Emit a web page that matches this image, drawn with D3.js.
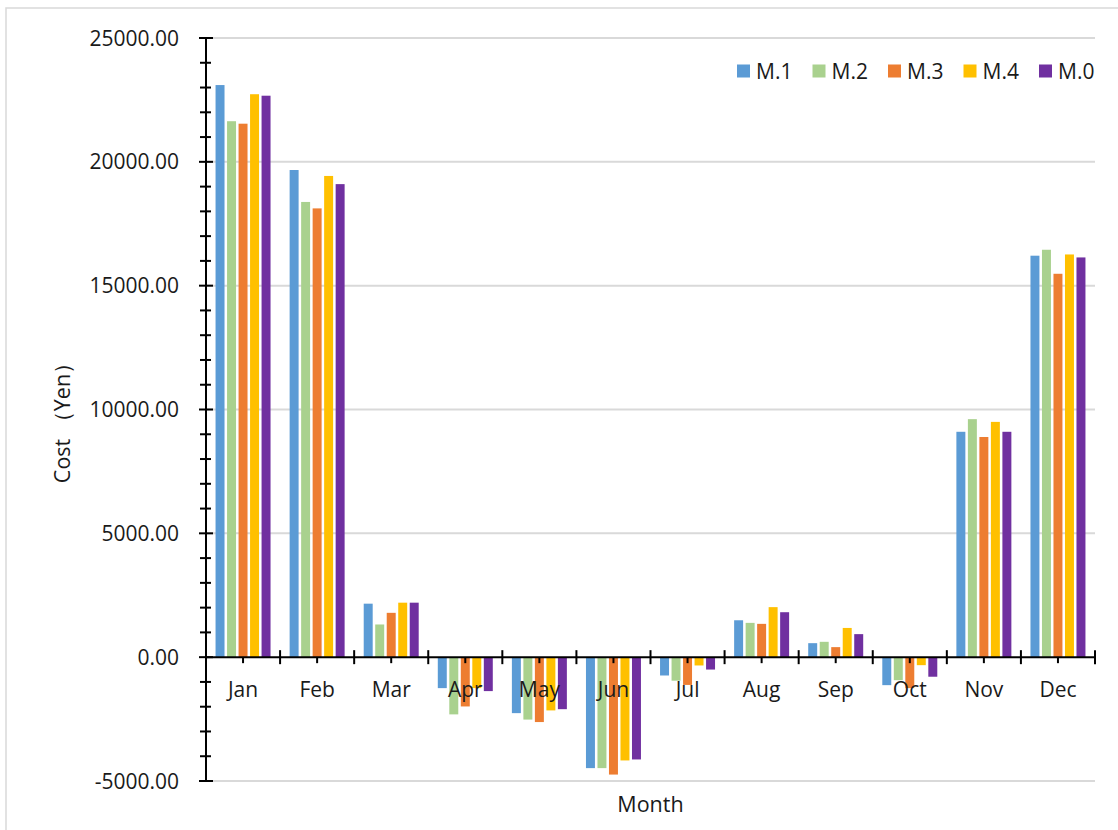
<!DOCTYPE html>
<html>
<head>
<meta charset="utf-8">
<script src="https://cdn.jsdelivr.net/npm/d3@7"></script>
<style>
  html, body { margin: 0; padding: 0; background: #fff; }
  svg { display: block; }
  text { font-family: "Open Sans", "Liberation Sans", sans-serif; fill: #1a1a1a; }
</style>
</head>
<body>
<svg id="chart" width="1118" height="830"></svg>
<script>
// Monthly cost per method (Yen)
const months = ["Jan", "Feb", "Mar", "Apr", "May", "Jun", "Jul", "Aug", "Sep", "Oct", "Nov", "Dec"];
const seriesNames = ["M.1", "M.2", "M.3", "M.4", "M.0"];
const seriesColors = ["#5B9BD5", "#A9D18E", "#ED7D31", "#FFC000", "#7030A0"];
const m1 = [23100, 19670, 2160, -1250, -2260, -4480, -740, 1490, 565, -1130, 9100, 16210];
const m2 = [21640, 18380, 1320, -2310, -2520, -4480, -950, 1385, 620, -930, 9610, 16450];
const m3 = [21540, 18120, 1790, -1990, -2620, -4740, -1120, 1345, 405, -1250, 8890, 15480];
const m4 = [22730, 19430, 2200, -1250, -2150, -4170, -335, 2020, 1180, -323, 9500, 16260];
const m0 = [22670, 19100, 2200, -1370, -2100, -4130, -500, 1815, 930, -790, 9100, 16140];
const yTicks = [-5000, 0, 5000, 10000, 15000, 20000, 25000];

const seriesValues = [m1, m2, m3, m4, m0];

const svg = d3.select("#chart");
const plot = { left: 206, right: 1095, top: 38, bottom: 781 };

// outer frame
svg.append("rect")
  .attr("x", 6).attr("y", 8)
  .attr("width", 1130).attr("height", 840)
  .attr("fill", "none").attr("stroke", "#d9d9d9").attr("stroke-width", 1.5);

const y = d3.scaleLinear().domain([-5000, 25000]).range([plot.bottom, plot.top]);
const x = d3.scaleBand().domain(months).range([plot.left, plot.right]).padding(0);
const xs = d3.scaleBand().domain(seriesNames).range([0, x.bandwidth()])
  .paddingInner(0.22).paddingOuter(0.83);

// gridlines
svg.append("g").selectAll("line")
  .data(yTicks.filter(v => v !== 0))
  .join("line")
  .attr("x1", plot.left).attr("x2", plot.right)
  .attr("y1", d => y(d)).attr("y2", d => y(d))
  .attr("stroke", "#d9d9d9").attr("stroke-width", 2);

// bars
const groups = svg.append("g").selectAll("g")
  .data(months)
  .join("g")
  .attr("transform", d => `translate(${x(d)},0)`);

groups.selectAll("rect")
  .data((m, i) => seriesNames.map((s, k) => ({ s, k, v: seriesValues[k][i] })))
  .join("rect")
  .attr("x", d => xs(d.s))
  .attr("width", xs.bandwidth())
  .attr("y", d => y(Math.max(0, d.v)))
  .attr("height", d => Math.abs(y(d.v) - y(0)))
  .attr("fill", d => seriesColors[d.k]);

// y axis: major ticks every 5000, minor every 1000
const yAxis = svg.append("g");
yAxis.append("line")
  .attr("x1", plot.left).attr("x2", plot.left)
  .attr("y1", plot.top).attr("y2", plot.bottom)
  .attr("stroke", "#000").attr("stroke-width", 2);
const minor = d3.range(-5000, 25001, 1000).filter(v => v % 5000 !== 0);
yAxis.selectAll("line.minor").data(minor).join("line")
  .attr("class", "minor")
  .attr("x1", plot.left - 6).attr("x2", plot.left + 5)
  .attr("y1", d => y(d)).attr("y2", d => y(d))
  .attr("stroke", "#000").attr("stroke-width", 2);
yAxis.selectAll("line.major").data(yTicks).join("line")
  .attr("class", "major")
  .attr("x1", plot.left - 7).attr("x2", plot.left + 7)
  .attr("y1", d => y(d)).attr("y2", d => y(d))
  .attr("stroke", "#000").attr("stroke-width", 2);
yAxis.selectAll("text").data(yTicks).join("text")
  .attr("x", 179).attr("y", d => y(d))
  .attr("dy", "0.36em")
  .attr("text-anchor", "end")
  .style("font-size", "21px")
  .text(d => d.toFixed(2));

// x axis at zero
const xAxis = svg.append("g");
xAxis.append("line")
  .attr("x1", plot.left).attr("x2", plot.right)
  .attr("y1", y(0)).attr("y2", y(0))
  .attr("stroke", "#000").attr("stroke-width", 2);
const bounds = months.map(m => x(m)).concat([plot.right]);
xAxis.selectAll("line.bound").data(bounds).join("line")
  .attr("class", "bound")
  .attr("x1", d => d).attr("x2", d => d)
  .attr("y1", y(0) - 7).attr("y2", y(0) + 7)
  .attr("stroke", "#000").attr("stroke-width", 2);
xAxis.selectAll("line.mid").data(months).join("line")
  .attr("class", "mid")
  .attr("x1", d => x(d) + x.bandwidth() / 2).attr("x2", d => x(d) + x.bandwidth() / 2)
  .attr("y1", y(0)).attr("y2", y(0) + 6)
  .attr("stroke", "#000").attr("stroke-width", 2);
xAxis.selectAll("text").data(months).join("text")
  .attr("x", d => x(d) + x.bandwidth() / 2)
  .attr("y", y(0) + 40)
  .attr("text-anchor", "middle")
  .style("font-size", "21px")
  .text(d => d);

// axis titles
svg.append("text")
  .attr("x", (plot.left + plot.right) / 2).attr("y", 812)
  .attr("text-anchor", "middle")
  .style("font-size", "21.5px")
  .text("Month");
svg.append("text")
  .attr("transform", `translate(70,${(plot.top + plot.bottom) / 2 + 8}) rotate(-90)`)
  .attr("text-anchor", "middle")
  .style("font-size", "21.5px")
  .text("Cost （Yen）");

// legend
const legend = svg.append("g").attr("transform", "translate(737,71)");
const item = legend.selectAll("g").data(seriesNames).join("g")
  .attr("transform", (d, i) => `translate(${i * 75.5},0)`);
item.append("rect")
  .attr("x", 0).attr("y", -6.5).attr("width", 13).attr("height", 13)
  .attr("fill", (d, i) => seriesColors[i]);
item.append("text")
  .attr("x", 19).attr("y", 0).attr("dy", "0.36em")
  .style("font-size", "21px")
  .text(d => d);
</script>
</body>
</html>
